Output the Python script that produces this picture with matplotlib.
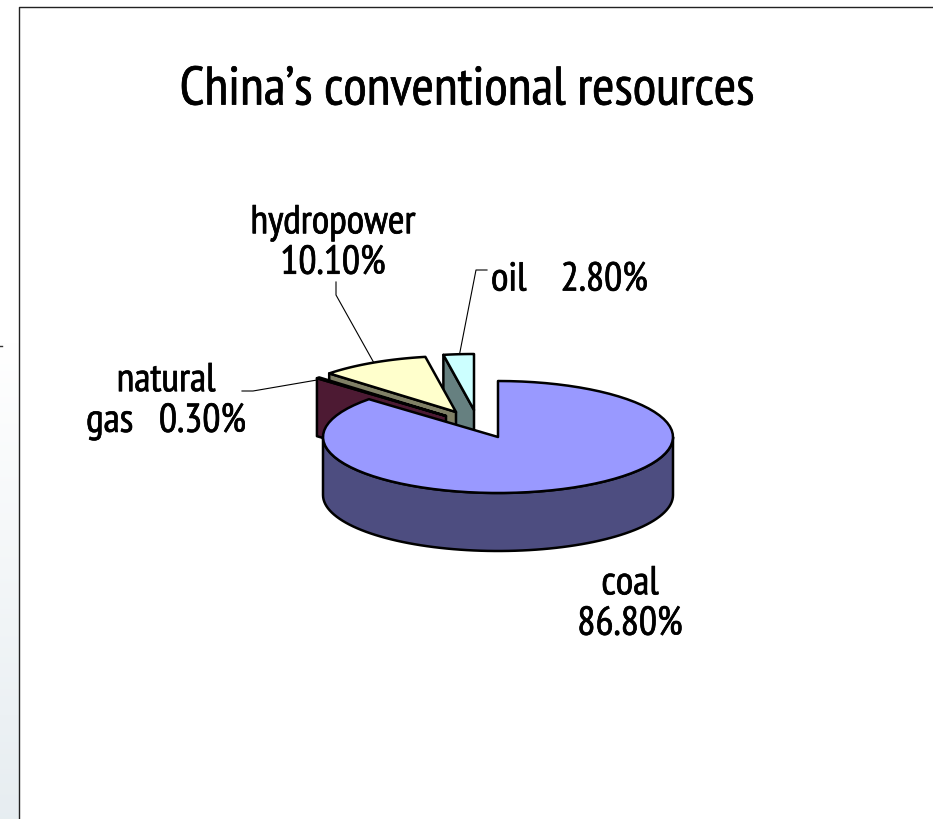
import numpy as np
import matplotlib
matplotlib.use("Agg")
import matplotlib.pyplot as plt
import matplotlib.patheffects as pe
from matplotlib.patches import Polygon
from matplotlib.transforms import Bbox

# ---- data ----
categories = ["coal", "natural gas", "hydropower", "oil"]
shares = [86.8, 0.3, 10.1, 2.8]
top_colors = ["#9999FF", "#993366", "#FFFFCC", "#CCFFFF"]
side_colors = ["#4D4D80", "#4D1A33", "#808066", "#668080"]
explode_px = [(0, 0), (-52, -21), (-42, -25), (-24, -27)]
title = "China\u2019s conventional resources"

W, H = 933, 819
CX, CY, RX, RY, DEPTH = 498, 437, 175, 56, 58
LW = 1.8

fig = plt.figure(figsize=(W / 100, H / 100), dpi=100)
ax = fig.add_axes([0, 0, 1, 1])
ax.axis("off")

# left strip with the slide's pale gradient
t = np.linspace(0, 1, 300).reshape(-1, 1, 1)
white = np.array([1.0, 1.0, 1.0]).reshape(1, 1, 3)
pale = np.array([0.905, 0.93, 0.945]).reshape(1, 1, 3)
img = white + (pale - white) * np.clip((t - 0.42) / 0.58, 0, 1)
ax.imshow(img, extent=[0, 19, H, 0], aspect="auto", zorder=0)
ax.set_xlim(0, W)
ax.set_ylim(H, 0)
ax.plot([19, 19, W], [H, 7, 7], color="#222222", lw=1.0, zorder=1)
ax.plot([0, 2], [346, 346], color="#333333", lw=1.0, zorder=1)


def arc(a0, a1, ox, oy, n=80):
    a = np.radians(np.linspace(a0, a1, n))
    return CX + ox + RX * np.sin(a), CY + oy - RY * np.cos(a)


# cumulative clockwise angles, starting at 12 o'clock
edges = np.cumsum([0] + shares) / sum(shares) * 360
style = dict(edgecolor="black", lw=LW, joinstyle="round")


def draw_slice(i, z):
    a0, a1 = edges[i], edges[i + 1]
    ox, oy = explode_px[i]
    ax_ = CX + ox
    ay_ = CY + oy
    x, y = arc(a0, a1, ox, oy)
    # outer wall: the portion of the rim that faces the viewer
    lo, hi = max(a0, 90), min(a1, 270)
    if lo < hi:
        xs, ys = arc(lo, hi, ox, oy)
        pts = np.r_[np.c_[xs, ys], np.c_[xs[::-1], ys[::-1] + DEPTH]]
        ax.add_patch(Polygon(pts, facecolor=side_colors[i], zorder=z, **style))
    # cut face on the start side of exploded slices
    if i > 0:
        ex, ey = x[0], y[0]
        face = [(ex, ey), (ax_, ay_), (ax_, ay_ + DEPTH), (ex, ey + DEPTH)]
        ax.add_patch(Polygon(face, facecolor=side_colors[i], zorder=z, **style))
    ax.add_patch(Polygon(np.r_[[(ax_, ay_)], np.c_[x, y]], facecolor=top_colors[i],
                         zorder=z + 0.5, **style))


draw_slice(3, 3)
draw_slice(2, 4)
draw_slice(1, 5)
draw_slice(0, 6)

# leader lines
leaders = [
    ([242, 253, 317], [391, 391, 380]),
    ([336, 336, 374], [282, 295, 363]),
    ([487, 476, 459], [270, 270, 357]),
]
for lx, ly in leaders:
    ax.plot(lx, ly, color="black", lw=0.8, zorder=2)

FONT = ["PT Sans Narrow", "Roboto", "DejaVu Sans"]
embolden = [pe.withStroke(linewidth=0.5, foreground="black")]
ax.text(467, 91, title, family=FONT, fontsize=39, ha="center", va="center",
        color="black", path_effects=embolden)

labels = [
    (333, 243, "center", "hydropower\n10.10%", None),
    (491, 280, "left", "oil    2.80%", 648),
    (166, 401, "center", "natural\ngas   0.30%", 245),
    (630, 604, "center", "coal\n86.80%", 683),
]
for x, y, ha, s, right in labels:
    txt = ax.text(x, y, s, family=FONT, fontsize=29, ha=ha, va="center", ma="center",
                  color="black", linespacing=1.12, zorder=8, path_effects=embolden)
    if right is not None:
        txt.set_clip_on(True)
        txt.set_clip_box(Bbox.from_extents(0, 0, right, H))

fig.savefig("out.png", dpi=100, facecolor="white")
